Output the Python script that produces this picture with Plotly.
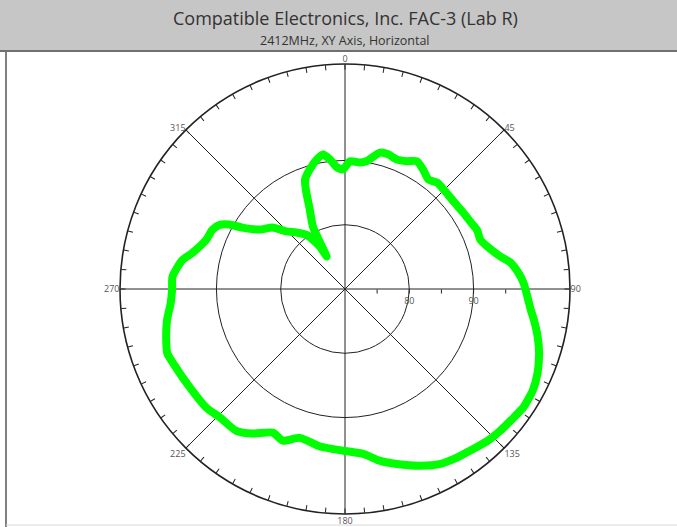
import plotly.graph_objects as go

# Measured pattern (angle in degrees, clockwise from 0 at top; level in dB)
theta_deg = [2.2, 6.8, 9.7, 14.4, 17.8, 21.8, 25.9, 29.4, 33.2, 37.3, 40.9, 44.7,
             51.1, 57.2, 62.7, 65.9, 70.0, 73.4, 78.2, 81.0, 84.7, 88.1, 92.4, 96.5,
             99.4, 104.0, 108.3, 113.7, 118.4, 123.5, 127.2, 132.3, 136.8, 142.2,
             146.3, 151.4, 156.9, 163.5, 168.4, 173.7, 180.0, 189.0, 196.9, 202.3,
             206.7, 212.6, 217.5, 224.4, 229.6, 237.8, 245.2, 250.1, 255.0, 260.1,
             265.4, 269.7, 274.1, 280.1, 283.3, 289.5, 294.1, 297.1, 299.1, 300.9,
             304.8, 310.3, 314.5, 319.2, 324.7, 326.9, 329.4, 330.5, 332.8, 336.1,
             338.2, 339.9, 343.6, 347.6, 350.7, 353.4, 356.1, 359.0, 362.2]
level_db = [89.9, 89.8, 90.2, 91.9, 92.0, 91.7, 92.1, 92.8, 92.2, 91.4, 91.9, 91.8,
            91.7, 91.9, 92.2, 92.5, 92.4, 93.1, 94.7, 96.1, 97.1, 97.8, 98.4, 99.1,
            99.8, 100.9, 101.8, 102.7, 103.2, 103.3, 103.0, 102.7, 102.4, 101.8,
            101.5, 101.0, 99.9, 98.4, 97.3, 95.8, 95.2, 94.8, 94.2, 95.5,
            95.0, 96.7, 97.8, 97.9, 98.4, 98.6, 99.0, 99.4, 98.8, 98.1,
            97.2, 96.9, 96.9, 95.7, 94.4, 92.9, 92.6, 91.9, 90.6, 88.6,
            86.2, 84.8, 82.8, 81.6, 80.3, 79.1, 77.7, 75.8, 80.9, 83.5,
            86.2, 88.1, 89.4, 90.6, 91.2, 90.3, 89.0, 88.6, 89.9]

radial_range = [70, 105]
grid_levels = [80, 90]
radial_ticks = [75, 80, 85, 90, 95]
radial_ticktext = ["", "80", "", "90", ""]
major_angles = [0, 45, 90, 135, 180, 225, 270, 315]
minor_angles = list(range(0, 360, 5))
angle_ticktext = [str(a) if a % 45 == 0 else "" for a in minor_angles]

title = "Compatible Electronics, Inc. FAC-3 (Lab R)"
subtitle = "2412MHz, XY Axis, Horizontal"

W, H = 677, 527
cx, cy, R = 345, 289, 225
dom_x = [(cx - R) / W, (cx + R) / W]
dom_y = [1 - (cy + R) / H, 1 - (cy - R) / H]

fig = go.Figure()
fig.add_trace(go.Scatterpolar(
    r=level_db, theta=theta_deg, mode="lines",
    line=dict(color="#00FF00", width=8, shape="spline", smoothing=0.6),
    subplot="polar", hoverinfo="skip", showlegend=False))
fig.add_trace(go.Scatterpolar(
    r=[None], theta=[None], mode="lines", subplot="polar2",
    hoverinfo="skip", showlegend=False))

grid_col = "#222222"
fig.update_layout(
    width=W, height=H,
    margin=dict(l=0, r=0, t=0, b=0),
    paper_bgcolor="white",
    font=dict(family="Open Sans, sans-serif", color="#444"),
    polar=dict(
        domain=dict(x=dom_x, y=dom_y),
        bgcolor="white",
        angularaxis=dict(rotation=90, direction="clockwise",
                         tickmode="array", tickvals=major_angles,
                         showticklabels=False, ticks="",
                         showgrid=True, gridcolor=grid_col, gridwidth=1.2,
                         showline=True, linecolor=grid_col, linewidth=1.6),
        radialaxis=dict(range=radial_range, tickmode="array", tickvals=grid_levels,
                        showticklabels=False, ticks="", showline=False,
                        showgrid=True, gridcolor=grid_col, gridwidth=1.2),
    ),
    polar2=dict(
        domain=dict(x=dom_x, y=dom_y),
        bgcolor="rgba(0,0,0,0)",
        angularaxis=dict(rotation=90, direction="clockwise",
                         tickmode="array", tickvals=minor_angles, ticktext=angle_ticktext,
                         ticks="inside", ticklen=5, tickwidth=1, tickcolor=grid_col,
                         tickfont=dict(size=9, color="#555"),
                         showgrid=False, showline=False),
        radialaxis=dict(range=radial_range, angle=0, side="clockwise",
                        tickmode="array", tickvals=radial_ticks, ticktext=radial_ticktext,
                        ticks="outside", ticklen=4, tickcolor=grid_col,
                        tickfont=dict(size=9, color="#555"),
                        showline=False, showgrid=False),
    ),
    shapes=[
        dict(type="rect", xref="paper", yref="paper", x0=0, x1=1,
             y0=1 - 50 / H, y1=1, fillcolor="#C6C6C6", line=dict(width=0), layer="below"),
        dict(type="line", xref="paper", yref="paper", x0=0, x1=1,
             y0=1 - 51 / H, y1=1 - 51 / H, line=dict(color="#707070", width=2)),
        dict(type="line", xref="paper", yref="paper", x0=6 / W, x1=6 / W,
             y0=0, y1=1 - 52 / H, line=dict(color="#808080", width=2)),
        dict(type="line", xref="paper", yref="paper", x0=6 / W, x1=1,
             y0=1 - 525 / H, y1=1 - 525 / H, line=dict(color="#D8D8D8", width=1)),
    ],
    annotations=[
        dict(text=title, xref="paper", yref="paper", x=345 / W, y=1 - 18 / H,
             showarrow=False, font=dict(size=18, color="#333"), xanchor="center", yanchor="middle"),
        dict(text=subtitle, xref="paper", yref="paper", x=345 / W, y=1 - 40 / H,
             showarrow=False, font=dict(size=12.5, color="#333"), xanchor="center", yanchor="middle"),
    ],
)

fig.write_html("out.html", config={"displayModeBar": False},
               post_script="document.body.style.margin='0';")
